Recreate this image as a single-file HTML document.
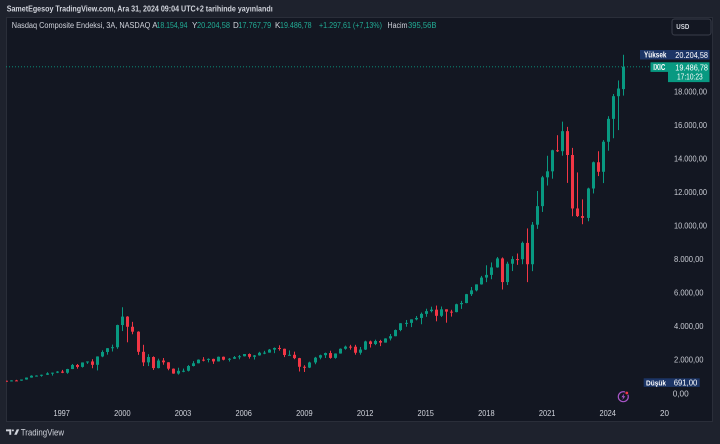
<!DOCTYPE html>
<html><head><meta charset="utf-8">
<style>
html,body{margin:0;padding:0;background:#1e222d;}
svg{display:block;font-family:"Liberation Sans",sans-serif;}
</style></head><body>
<svg id="s" width="720" height="444" viewBox="0 0 720 444" xmlns="http://www.w3.org/2000/svg">
<defs><clipPath id="cp"><rect x="6" y="17" width="662" height="404"/></clipPath></defs>
<rect width="720" height="444" fill="#1e222d"/>
<rect x="6.5" y="17.5" width="706" height="404" fill="#131722" stroke="#2a2e39"/>

<text x="6.7" y="11.4" font-size="8.4" font-weight="bold" fill="#d1d4dc" textLength="266" lengthAdjust="spacingAndGlyphs">SametEgesoy TradingView.com, Ara 31, 2024 09:04 UTC+2 tarihinde yayınlandı</text>

<g font-size="8" fill="#d1d4dc">
<text x="11.8" y="28" textLength="138.5" lengthAdjust="spacingAndGlyphs">Nasdaq Composite Endeksi, 3A, NASDAQ</text>
<text x="152.2" y="28">A</text>
<text x="156.5" y="28" fill="#22ab94" textLength="31" lengthAdjust="spacingAndGlyphs">18.154,94</text>
<text x="192" y="28">Y</text>
<text x="197" y="28" fill="#22ab94" textLength="33" lengthAdjust="spacingAndGlyphs">20.204,58</text>
<text x="233" y="28">D</text>
<text x="238.3" y="28" fill="#22ab94" textLength="33" lengthAdjust="spacingAndGlyphs">17.767,79</text>
<text x="275" y="28">K</text>
<text x="280" y="28" fill="#22ab94" textLength="31.6" lengthAdjust="spacingAndGlyphs">19.486,78</text>
<text x="319" y="28" fill="#22ab94" textLength="63" lengthAdjust="spacingAndGlyphs">+1.297,61 (+7,13%)</text>
<text x="387.5" y="28" textLength="20" lengthAdjust="spacingAndGlyphs">Hacim</text>
<text x="408" y="28" fill="#22ab94" textLength="28.5" lengthAdjust="spacingAndGlyphs">395,56B</text>
</g>

<rect x="672" y="19" width="39" height="16" rx="2.5" fill="#131722" stroke="#3a3e4a"/>
<text x="676.3" y="29.2" font-size="7.2" font-weight="bold" fill="#d1d4dc" textLength="13" lengthAdjust="spacingAndGlyphs">USD</text>

<g id="candles" clip-path="url(#cp)"></g>
<line x1="6" y1="66.8" x2="650" y2="66.8" stroke="#089981" stroke-width="0.8" stroke-dasharray="1,2"/>

<g id="plabels" font-size="8.5" fill="#c8cbd3"></g>
<g id="tlabels" font-size="8.6" fill="#d1d4dc" text-anchor="middle"></g>
<text x="660" y="416" font-size="8.6" fill="#d1d4dc" textLength="9" lengthAdjust="spacingAndGlyphs">20</text>

<!-- High label -->
<rect x="640" y="50" width="28" height="9.5" fill="#1c3566"/>
<rect x="668" y="50" width="41.5" height="9.5" fill="#1c3566"/>
<text x="644" y="57.7" font-size="7.8" font-weight="bold" fill="#ffffff" textLength="22.5" lengthAdjust="spacingAndGlyphs">Yüksek</text>
<text x="675.3" y="57.9" font-size="8.4" fill="#ffffff" textLength="32.7" lengthAdjust="spacingAndGlyphs">20.204,58</text>

<!-- Close label -->
<rect x="650.5" y="62.3" width="17.5" height="9.6" fill="#089981"/>
<rect x="668" y="62.3" width="41.5" height="19.8" fill="#089981"/>
<text x="653.3" y="70.2" font-size="7.8" font-weight="bold" fill="#ffffff" textLength="12" lengthAdjust="spacingAndGlyphs">IXIC</text>
<text x="675.3" y="70.3" font-size="8.4" fill="#ffffff" textLength="32.7" lengthAdjust="spacingAndGlyphs">19.486,78</text>
<text x="677" y="79.6" font-size="8.4" fill="#ffffff" textLength="25.7" lengthAdjust="spacingAndGlyphs">17:10:23</text>

<!-- Low label -->
<rect x="643.7" y="378.3" width="24.3" height="8.6" fill="#1c3566"/>
<rect x="668" y="378.3" width="31.7" height="8.6" fill="#1c3566"/>
<text x="646" y="385.4" font-size="7.6" font-weight="bold" fill="#ffffff" textLength="20" lengthAdjust="spacingAndGlyphs">Düşük</text>
<text x="673.7" y="385.6" font-size="8.4" fill="#ffffff" textLength="23.6" lengthAdjust="spacingAndGlyphs">691,00</text>

<!-- lightning icon -->
<circle cx="623.3" cy="396.7" r="5" fill="#131722" stroke="#a855c8" stroke-width="1.2"/>
<polygon points="624.3,393.4 621.4,397.2 623.2,397.2 622.3,400.1 625.3,396.2 623.5,396.2" fill="#a855c8"/>
<circle cx="626.8" cy="393" r="1.7" fill="#f23645" stroke="#131722" stroke-width="0.6"/>

<!-- footer logo -->
<g fill="#d1d4dc">
<rect x="6" y="429.4" width="5.2" height="1.9"/>
<rect x="9.3" y="429.4" width="1.9" height="5.4"/>
<circle cx="12.9" cy="430.4" r="1"/>
<polygon points="14.2,434.8 16.7,429.4 19.2,429.4 16.7,434.8"/>
</g>
<text x="20.8" y="435.3" font-size="9.4" fill="#d1d4dc" textLength="43.3" lengthAdjust="spacingAndGlyphs">TradingView</text>
</svg>
<script>
(function(){
var NS="http://www.w3.org/2000/svg";
var d=[
[743,746,691,706],[706,775,700,764],[764,800,740,752],
[752,820,741,817],[817,940,805,933],[933,1070,925,1044],[1044,1070,990,1052],
[1052,1110,988,1101],[1101,1250,1090,1185],[1185,1230,1050,1226],[1226,1320,1200,1291],
[1291,1392,1200,1221],[1221,1455,1160,1442],[1442,1745,1440,1686],[1686,1745,1465,1570],
[1570,1840,1530,1835],[1835,1900,1750,1895],[1895,2030,1490,1694],[1694,2200,1360,2193],
[2193,2560,2150,2461],[2461,2690,2300,2686],[2686,2900,2490,2746],[2746,4090,2650,4069],
[4069,5132,3710,4573],[4573,4600,3040,3966],[3966,4260,3520,3673],[3673,3700,2290,2471],
[2471,2890,1620,1840],[1840,2330,1620,2160],[2160,2200,1387,1499],[1499,2060,1480,1950],
[1950,2100,1700,1845],[1845,1850,1370,1463],[1463,1480,1160,1172],[1172,1520,1108,1336],
[1336,1470,1253,1341],[1341,1680,1300,1623],[1623,1916,1600,1787],[1787,2020,1780,2003],
[2003,2153,1900,1994],[1994,2080,1840,2048],[2048,2060,1750,1897],[1897,2190,1890,2175],
[2175,2190,1960,1999],[1999,2100,1890,2057],[2057,2220,2040,2152],[2152,2280,2025,2205],
[2205,2340,2190,2340],[2340,2375,2065,2172],[2172,2280,2010,2258],[2258,2470,2240,2415],
[2415,2530,2330,2422],[2422,2640,2420,2603],[2603,2730,2390,2701],[2701,2861,2540,2652],
[2652,2660,2155,2279],[2279,2552,2270,2293],[2293,2480,2030,2092],[2092,2110,1295,1577],
[1577,1670,1266,1529],[1529,1880,1500,1835],[1835,2168,1730,2122],[2122,2300,2024,2269],
[2269,2425,2100,2398],[2398,2535,2060,2109],[2109,2380,2061,2369],[2369,2675,2360,2653],
[2653,2840,2600,2781],[2781,2888,2600,2774],[2774,2888,2300,2415],[2415,2760,2300,2605],
[2605,3134,2580,3091],[3091,3140,2726,2935],[2935,3196,2870,3116],[3116,3185,2810,3020],
[3020,3280,3020,3268],[3268,3535,3150,3403],[3403,3800,3400,3771],[3771,4180,3700,4177],
[4177,4372,3968,4199],[4199,4410,3946,4408],[4408,4610,4350,4493],[4493,4815,4117,4736],
[4736,5042,4560,4901],[4901,5164,4825,4987],[4987,5232,4292,4620],[4620,5176,4550,5007],
[5007,5010,4210,4870],[4870,4980,4574,4843],[4843,5342,4830,5312],[5312,5512,5034,5383],
[5383,5928,5370,5912],[5912,6341,5805,6140],[6140,6500,6080,6496],[6496,7003,6480,6903],
[6903,7637,6630,7063],[7063,7806,6805,7510],[7510,8133,7490,8046],[8046,8107,6190,6635],
[6635,7850,6457,7729],[7729,8176,7292,8006],[8006,8340,7662,7999],[7999,9052,7700,8973],
[8973,9838,6631,7700],[7700,10221,7287,10059],[10059,12074,9811,11168],[11168,12973,10822,12888],
[12888,14175,12397,13247],[13247,14536,12807,14504],[14504,15403,14400,14448],[14448,16212,14181,15645],
[15645,15901,12555,14221],[14221,14646,10565,11029],[11029,13181,10519,10576],[10576,11571,10089,10466],
[10466,12269,10265,12222],[12222,13828,11925,13788],[13788,14446,12963,13219],[13219,15111,12544,15011],
[15011,16538,14477,16379],[16379,17862,15223,17733],[17733,18671,15708,18189],[18154.94,20204.58,17767.79,19486.78]
];
function Y(v){return 393.2-v*0.01675;}
var g=document.getElementById("candles");
var x0=61.7,dx=5.056;
function R(x,y,w,h,f){var r=document.createElementNS(NS,"rect");r.setAttribute("x",x);r.setAttribute("y",y);r.setAttribute("width",w);r.setAttribute("height",h);r.setAttribute("fill",f);g.appendChild(r);}
for(var i=0;i<d.length;i++){
 var o=d[i][0],h=d[i][1],l=d[i][2],c=d[i][3];
 var x=x0+(i-11)*dx; var cx=Math.round(x);
 var col=c>=o?"#089981":"#f23645";
 var yh=Y(h),yl=Y(l);
 R(cx,yh,1,Math.max(1,yl-yh),col);
 var t=Y(Math.max(o,c)),b=Y(Math.min(o,c));
 var bh=Math.max(1,b-t);
 R(cx-1,t,3,bh,col);
}
var pl=document.getElementById("plabels");
var labs=["0,00","2.000,00","4.000,00","6.000,00","8.000,00","10.000,00","12.000,00","14.000,00","16.000,00","18.000,00"];
for(var k=0;k<labs.length;k++){
 var v=k*2000; var yy=Y(v)+3;
 if(k===0) yy=396.3;
 var t=document.createElementNS(NS,"text");
 t.setAttribute("x",k===0?672.7:674);
 t.setAttribute("y",yy.toFixed(1));
 var L=labs[k].length;
 var w=L===4?16:(L===8?29.5:33);
 t.setAttribute("textLength",w);
 t.setAttribute("lengthAdjust","spacingAndGlyphs");
 t.textContent=labs[k];
 pl.appendChild(t);
}
var tl=document.getElementById("tlabels");
var yrs=[1997,2000,2003,2006,2009,2012,2015,2018,2021,2024];
for(var j=0;j<yrs.length;j++){
 var t2=document.createElementNS(NS,"text");
 t2.setAttribute("x",(61.7+(yrs[j]-1997)*20.224).toFixed(1));
 t2.setAttribute("y","416");
 t2.setAttribute("textLength","16.5");
 t2.setAttribute("lengthAdjust","spacingAndGlyphs");
 t2.textContent=yrs[j];
 tl.appendChild(t2);
}
})();
</script>
</body></html>
